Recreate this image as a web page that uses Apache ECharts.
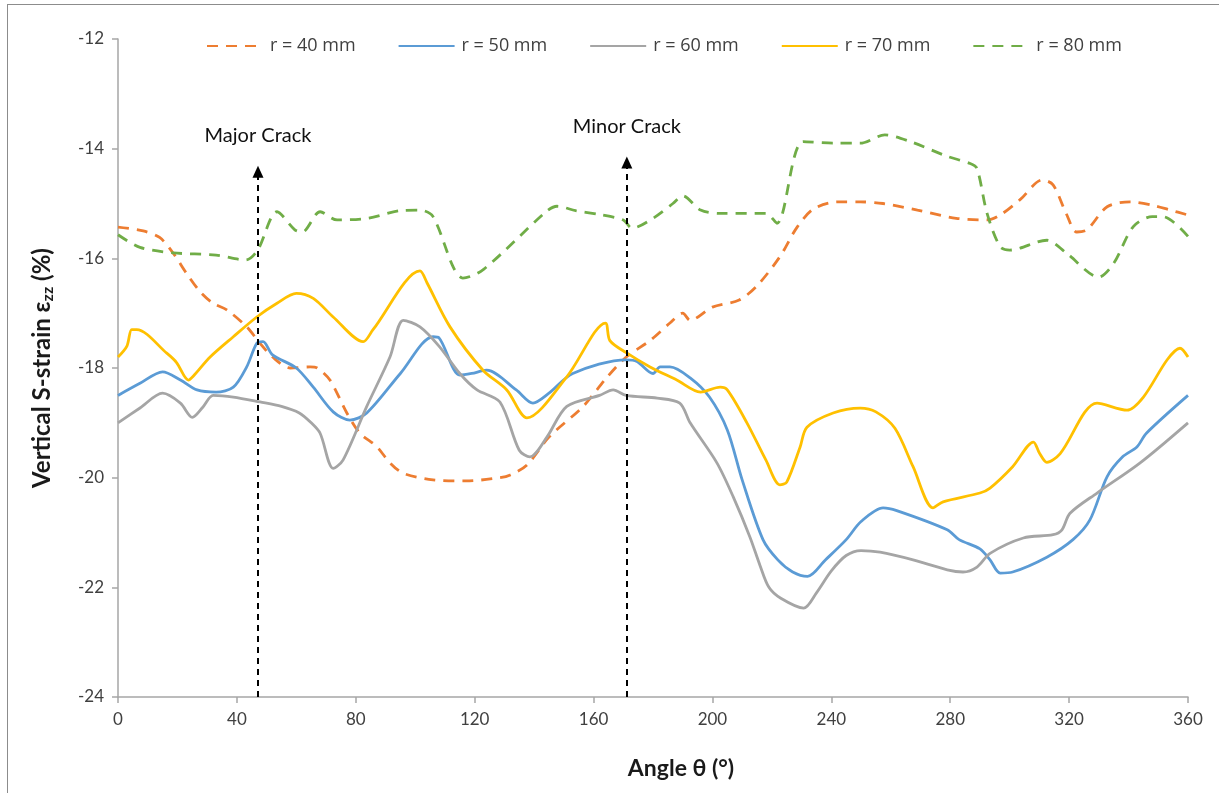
<!DOCTYPE html>
<html>
<head>
<meta charset="utf-8">
<script src="https://cdn.jsdelivr.net/npm/echarts@6/dist/echarts.min.js"></script>
<style>
  html, body { margin: 0; padding: 0; background: #fff; }
  #frame { position: absolute; left: 7px; top: 4px; width: 1300px; height: 900px;
           border-top: 1.5px solid #8c8c8c; border-left: 1.5px solid #8c8c8c; }
  #chart { position: absolute; left: 0; top: 0; width: 1219px; height: 793px; }
</style>
</head>
<body>
<div id="frame"></div>
<div id="chart"></div>
<script>
// ---- data (angle in degrees, vertical strain in %) ----
const seriesNames = ['r = 40 mm', 'r = 50 mm', 'r = 60 mm', 'r = 70 mm', 'r = 80 mm'];

const r40 = [[0,-15.43],[8.5,-15.5],[14,-15.62],[18.5,-15.9],[23,-16.27],[27.5,-16.6],[32,-16.82],[36.6,-16.94],[43.3,-17.25],[47.8,-17.55],[52,-17.8],[58,-18.0],[64.6,-17.98],[67,-18.0],[71.3,-18.22],[77,-18.82],[81.4,-19.19],[87,-19.43],[91.5,-19.73],[96,-19.92],[106,-20.04],[117,-20.06],[128.5,-20.0],[132,-19.95],[137.6,-19.77],[145,-19.26],[156.5,-18.7],[164.5,-18.17],[171,-17.8],[179,-17.5],[185.7,-17.18],[190,-17.0],[192.5,-17.13],[200,-16.89],[209,-16.76],[215,-16.5],[222.7,-15.97],[228.5,-15.43],[234,-15.1],[242,-14.97],[249.7,-14.97],[257.4,-15.0],[269,-15.12],[282,-15.27],[292.4,-15.3],[296.8,-15.21],[303.5,-14.93],[311,-14.57],[314.6,-14.66],[319,-15.18],[322.6,-15.52],[326,-15.48],[332.8,-15.06],[340.5,-14.97],[348,-15.03],[354,-15.12],[360,-15.21]];

const r50 = [[0,-18.5],[7.4,-18.28],[15,-18.07],[21,-18.22],[26.6,-18.4],[33,-18.44],[38.8,-18.35],[43.3,-17.98],[46.7,-17.55],[48.8,-17.52],[52,-17.76],[60,-18.0],[65.7,-18.35],[72.4,-18.8],[78,-18.95],[83.7,-18.82],[95,-18.1],[106,-17.43],[108,-17.45],[115,-18.13],[119,-18.1],[124,-18.04],[134,-18.4],[139.6,-18.64],[145,-18.46],[153,-18.1],[171,-17.85],[174.6,-17.88],[180,-18.1],[182.4,-17.98],[185.7,-17.98],[192.5,-18.18],[199,-18.53],[205,-19.13],[210,-20.04],[217,-21.13],[222,-21.5],[227,-21.72],[232,-21.8],[238,-21.5],[245,-21.13],[250,-20.8],[257.4,-20.55],[262,-20.6],[279,-20.95],[283,-21.13],[290,-21.3],[293.4,-21.5],[296.8,-21.74],[301,-21.72],[312.5,-21.45],[321.3,-21.13],[327,-20.77],[332.8,-19.98],[338,-19.62],[342.8,-19.44],[346,-19.19],[360,-18.5]];

const r60 = [[0,-19.0],[7.4,-18.73],[15,-18.46],[21,-18.64],[25,-18.9],[28.6,-18.71],[32,-18.5],[38.8,-18.53],[47.8,-18.62],[55,-18.7],[61,-18.82],[65,-19.0],[68,-19.19],[72.4,-19.83],[75.7,-19.68],[83.7,-18.7],[91.5,-17.8],[96,-17.13],[101.6,-17.25],[108,-17.6],[115,-18.1],[120.8,-18.4],[128.5,-18.62],[135,-19.5],[138.6,-19.62],[144.3,-19.26],[151,-18.7],[162,-18.5],[166.6,-18.4],[171,-18.5],[181.4,-18.55],[189,-18.64],[192.5,-19.0],[201.5,-19.73],[207,-20.35],[212.6,-21.08],[216,-21.6],[219,-22.0],[223,-22.2],[230.7,-22.38],[235,-22.1],[240,-21.7],[245,-21.42],[250,-21.33],[256.4,-21.36],[267.5,-21.5],[279,-21.68],[284.3,-21.72],[289,-21.63],[293.4,-21.38],[304.6,-21.1],[314.6,-21.04],[317.6,-20.95],[320.3,-20.65],[329.4,-20.28],[343.9,-19.73],[360,-19.0]];

const r70 = [[0,-17.8],[3,-17.6],[4.6,-17.3],[6.3,-17.3],[16.4,-17.73],[19.7,-17.9],[23.7,-18.22],[25.3,-18.15],[31,-17.8],[38.8,-17.43],[46.7,-17.07],[53.5,-16.82],[60,-16.64],[65.7,-16.73],[72.4,-17.07],[82.5,-17.52],[85.8,-17.3],[101.6,-16.23],[104,-16.45],[111.7,-17.25],[122.8,-18.04],[130.8,-18.4],[137.6,-18.91],[151,-18.16],[164,-17.18],[165.5,-17.5],[171,-17.72],[179,-17.98],[188,-18.22],[196,-18.44],[202.6,-18.35],[205,-18.4],[211.6,-19.0],[218,-19.68],[222.7,-20.13],[225,-20.08],[229.5,-19.44],[231.8,-19.08],[240.6,-18.82],[249.7,-18.73],[255,-18.8],[261.4,-19.1],[267.5,-19.8],[274.2,-20.55],[277.6,-20.44],[290,-20.28],[293.4,-20.19],[301,-19.8],[308,-19.35],[310,-19.55],[312.5,-19.72],[317,-19.56],[329.4,-18.64],[339.5,-18.77],[345,-18.53],[353,-17.85],[357.3,-17.64],[360,-17.8]];

const r80 = [[0,-15.57],[7.4,-15.8],[18.5,-15.9],[33,-15.94],[43,-16.03],[47,-15.85],[53.5,-15.15],[59.5,-15.48],[62,-15.52],[68,-15.15],[73.7,-15.3],[84,-15.27],[95,-15.13],[101.6,-15.12],[106,-15.24],[112.8,-16.16],[116,-16.36],[123,-16.2],[144,-15.15],[147.7,-15.05],[154,-15.13],[162,-15.2],[170,-15.3],[173,-15.45],[180,-15.27],[186.7,-15.0],[190,-14.86],[196,-15.12],[202.5,-15.18],[218,-15.18],[221.7,-15.36],[230.5,-13.87],[240.6,-13.9],[249.7,-13.9],[258,-13.75],[266.5,-13.87],[279,-14.14],[286.7,-14.27],[289,-14.36],[292.4,-15.18],[296.8,-15.79],[300,-15.85],[312.5,-15.67],[319,-15.9],[330,-16.34],[335,-16.09],[341.6,-15.42],[348,-15.24],[351.6,-15.24],[360,-15.6]];

// crack annotations: label, angle, arrow-tip strain
const crackLabels = ['Major Crack', 'Minor Crack'];
const crackAngles = [47.1, 171.2];
const crackTips = [-14.42, -14.25];

const xTicks = { min: 0, max: 360, interval: 40 };
const yTicks = { min: -24, max: -12, interval: 2 };

// ---- chart ----
const colors = ['#ED7D31', '#5B9BD5', '#A5A5A5', '#FFC000', '#70AD47'];
const dataSets = [r40, r50, r60, r70, r80];
const dashed = [true, false, false, false, true];

const chart = echarts.init(document.getElementById('chart'), null, { renderer: 'canvas' });

const series = dataSets.map((d, i) => ({
  name: seriesNames[i],
  type: 'line',
  data: d,
  smooth: 0.3,
  symbol: 'none',
  showSymbol: false,
  lineStyle: { color: colors[i], width: dashed[i] ? 2.8 : 2.8, type: dashed[i] ? [11, 8] : 'solid' },
  itemStyle: { color: colors[i] },
  z: 3
}));

series.push({
  name: 'cracks',
  type: 'line',
  data: [],
  markLine: {
    silent: true,
    symbol: ['none', 'triangle'],
    symbolSize: [11, 12],
    lineStyle: { color: '#000', width: 2, type: [6, 5] },
    label: {
      show: true, position: 'end', distance: 26,
      color: '#111', fontSize: 20, fontFamily: 'Lato',
      formatter: p => p.name
    },
    data: crackLabels.map((lab, i) => [
      { name: lab, coord: [crackAngles[i], yTicks.min] },
      { coord: [crackAngles[i], crackTips[i]] }
    ]),
    z: 5
  }
});

const axisFont = { color: '#404040', fontSize: 17, fontFamily: 'Lato' };

chart.setOption({
  animation: false,
  backgroundColor: 'transparent',
  color: colors,
  grid: { left: 118, right: 31, top: 39, bottom: 96, containLabel: false },
  legend: {
    data: seriesNames,
    left: 201, top: 32,
    itemWidth: 56, itemHeight: 14, itemGap: 42,
    itemStyle: { opacity: 0 },
    textStyle: { color: '#404040', fontSize: 18, fontFamily: 'Open Sans', padding: [0, 0, 0, 2] }
  },
  xAxis: {
    type: 'value',
    min: xTicks.min, max: xTicks.max, interval: xTicks.interval,
    name: 'Angle θ (°)',
    nameLocation: 'middle', nameGap: 60,
    nameTextStyle: { color: '#1a1a1a', fontSize: 23, fontWeight: 'bold', fontFamily: 'Lato', padding: [0, 0, 0, 56] },
    axisLine: { show: true, lineStyle: { color: '#a6a6a6', width: 1.5 } },
    axisTick: { show: true, length: 6, lineStyle: { color: '#a6a6a6', width: 1.5 } },
    axisLabel: Object.assign({ margin: 14 }, axisFont),
    splitLine: { show: false }
  },
  yAxis: {
    type: 'value',
    min: yTicks.min, max: yTicks.max, interval: yTicks.interval,
    name: '{a|Vertical S-strain ε}{s|zz}{a| (%)}',
    nameLocation: 'middle', nameGap: 62, nameRotate: 90,
    nameTextStyle: {
      rich: {
        a: { color: '#1a1a1a', fontSize: 24, fontWeight: 'bold', fontFamily: 'Lato', lineHeight: 28 },
        s: { color: '#1a1a1a', fontSize: 16, fontWeight: 'bold', fontFamily: 'Lato', verticalAlign: 'bottom', lineHeight: 28, padding: [10, 0, 0, 0] }
      }
    },
    axisLine: { show: true, lineStyle: { color: '#a6a6a6', width: 1.5 } },
    axisTick: { show: true, length: 6, lineStyle: { color: '#a6a6a6', width: 1.5 } },
    axisLabel: Object.assign({ margin: 14 }, axisFont),
    splitLine: { show: false }
  },
  series: series
});
</script>
</body>
</html>
